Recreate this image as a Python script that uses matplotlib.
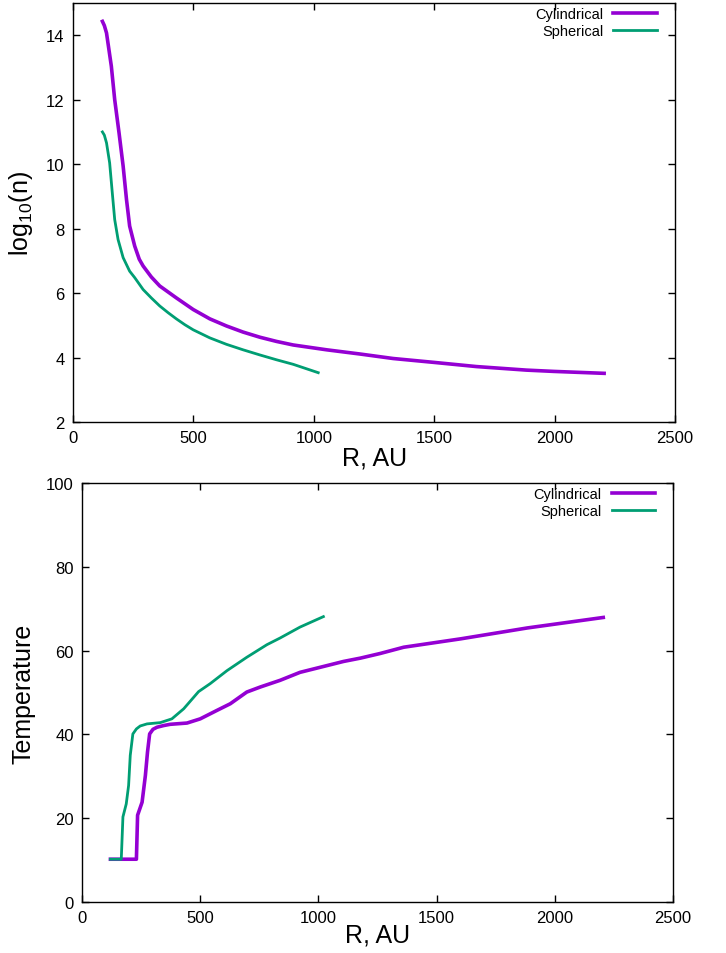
import matplotlib

matplotlib.use("Agg")
import matplotlib.pyplot as plt

plt.rcParams["font.family"] = ["Liberation Sans", "DejaVu Sans"]
plt.rcParams["mathtext.fontset"] = "custom"
plt.rcParams["mathtext.rm"] = "Liberation Sans"
plt.rcParams["mathtext.it"] = "Liberation Sans"

PURPLE = "#9400d3"
GREEN = "#009e73"

# density profile, log10(n) vs R [AU]
cyl_r_n = [122, 130, 139, 159, 173, 191, 208, 222, 235, 256, 275, 291, 325, 360, 429, 499,
           568, 637, 706, 776, 845, 914, 1053, 1191, 1329, 1498, 1675, 1882, 1996, 2205]
cyl_logn = [14.43, 14.3, 14.07, 13.04, 12.0, 10.97, 9.94, 8.9, 8.08, 7.46, 7.05, 6.84,
            6.5, 6.22, 5.85, 5.49, 5.2, 4.98, 4.79, 4.63, 4.5, 4.39, 4.24, 4.11, 3.97,
            3.85, 3.72, 3.61, 3.57, 3.51]
sph_r_n = [122, 130, 139, 152, 163, 173, 187, 208, 235, 256, 291, 325, 360, 395, 429,
           464, 499, 568, 637, 706, 776, 845, 914, 966, 1018]
sph_logn = [11.0, 10.9, 10.66, 10.04, 9.11, 8.28, 7.66, 7.1, 6.68, 6.48, 6.11, 5.85, 5.6,
            5.39, 5.2, 5.02, 4.86, 4.61, 4.41, 4.24, 4.08, 3.93, 3.79, 3.66, 3.53]

# temperature profile vs R [AU]
cyl_r_t = [120, 230, 235, 254, 268, 277, 286, 300, 317, 345, 373, 444, 500, 570, 627, 697,
           754, 838, 922, 1007, 1106, 1178, 1261, 1361, 1602, 1884, 2205]
cyl_temp = [10.2, 10.2, 20.7, 23.8, 30.2, 35.8, 40.1, 41.2, 41.7, 42.1, 42.4, 42.7, 43.7,
            45.7, 47.3, 50.1, 51.3, 52.9, 54.8, 56.0, 57.4, 58.2, 59.3, 60.8, 62.8, 65.4,
            67.9]
sph_r_t = [120, 166, 173, 187, 197, 204, 215, 230, 246, 275, 331, 380, 430, 493, 542, 613,
           697, 782, 838, 922, 1021]
sph_temp = [10.2, 10.2, 20.3, 23.4, 27.8, 35.0, 40.1, 41.3, 42.0, 42.5, 42.8, 43.7, 46.1,
            50.2, 52.1, 55.2, 58.4, 61.4, 63.0, 65.6, 68.1]


def _style(ax):
    ax.tick_params(direction="in", top=True, right=True, length=5, width=1,
                   labelsize=12, pad=6)
    for sp in ax.spines.values():
        sp.set_linewidth(1.0)
    ax.legend(loc="upper right", bbox_to_anchor=(0.970, 0.990), frameon=False,
              markerfirst=False, fontsize=10.5, handlelength=3.0, handletextpad=0.7,
              labelspacing=0.2, borderaxespad=0.0, borderpad=0.0)


fig = plt.figure(figsize=(7.26, 9.54), dpi=100)

ax1 = fig.add_axes([0.1006, 0.5566, 0.8294, 0.4392])
ax1.plot(cyl_r_n, cyl_logn, color=PURPLE, lw=2.6, label="Cylindrical")
ax1.plot(sph_r_n, sph_logn, color=GREEN, lw=2.0, label="Spherical")
ax1.set_xlim(0, 2500)
ax1.set_ylim(2, 15)
ax1.set_xticks([0, 500, 1000, 1500, 2000, 2500])
ax1.set_yticks([2, 4, 6, 8, 10, 12, 14])
ax1.set_xlabel("R, AU", fontsize=18, labelpad=0)
ax1.set_ylabel("log$_{10}$(n)", fontsize=18)
ax1.yaxis.set_label_coords(-0.063, 0.5)
_style(ax1)

ax2 = fig.add_axes([0.113, 0.0535, 0.814, 0.4392])
ax2.plot(cyl_r_t, cyl_temp, color=PURPLE, lw=2.6, label="Cylindrical")
ax2.plot(sph_r_t, sph_temp, color=GREEN, lw=2.0, label="Spherical")
ax2.set_xlim(0, 2500)
ax2.set_ylim(0, 100)
ax2.set_xticks([0, 500, 1000, 1500, 2000, 2500])
ax2.set_yticks([0, 20, 40, 60, 80, 100])
ax2.set_xlabel("R, AU", fontsize=18, labelpad=-2)
ax2.set_ylabel("Temperature", fontsize=18)
ax2.yaxis.set_label_coords(-0.0795, 0.5)
_style(ax2)

fig.savefig("out.png", dpi=100)
plt.close(fig)
